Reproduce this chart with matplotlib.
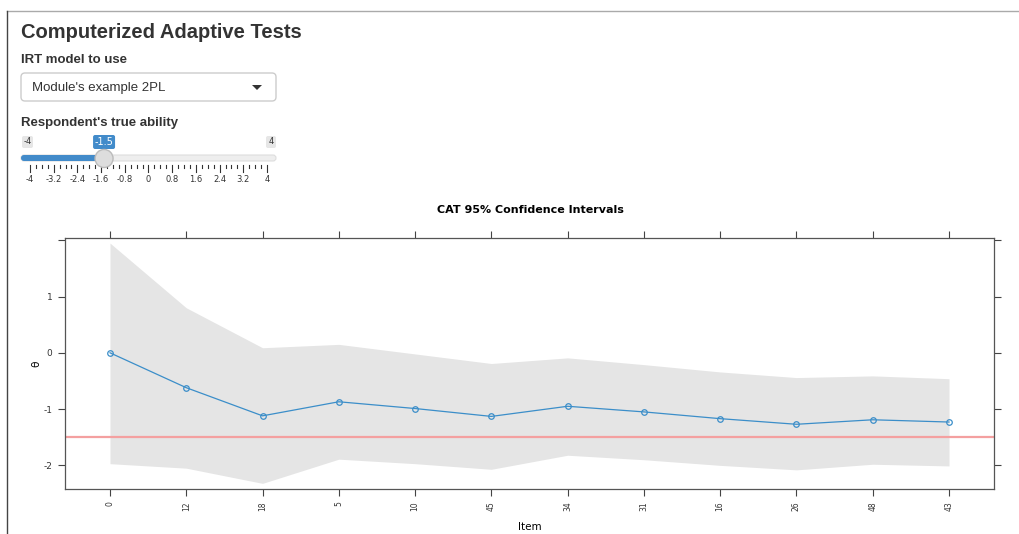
import numpy as np
import matplotlib.pyplot as plt
from matplotlib.patches import FancyBboxPatch, Circle, Polygon

# CAT run data
items = ['0', '12', '18', '5', '10', '45', '34', '31', '16', '26', '48', '43']
theta = [0.0, -0.62, -1.12, -0.87, -0.99, -1.13, -0.95, -1.05, -1.17, -1.27, -1.19, -1.23]
upper = [1.95, 0.80, 0.09, 0.15, -0.02, -0.19, -0.09, -0.21, -0.34, -0.44, -0.41, -0.46]
lower = [-1.97, -2.05, -2.32, -1.89, -1.97, -2.07, -1.82, -1.90, -2.00, -2.08, -1.98, -2.01]
true_theta = -1.5

# slider widget
slider_min, slider_max, slider_val = -4, 4, -1.5
slider_ticks = [-4, -3.2, -2.4, -1.6, -0.8, 0, 0.8, 1.6, 2.4, 3.2, 4]

W, H = 1019, 534
fig = plt.figure(figsize=(W / 100, H / 100), dpi=100)

# ---- page / UI layer in pixel coordinates ----
ui = fig.add_axes([0, 0, 1, 1])
ui.set_xlim(0, W)
ui.set_ylim(H, 0)
ui.axis('off')

ui.plot([7.5, W], [10.5, 10.5], color='#aaaaaa', lw=1)
ui.plot([7.5, 7.5], [10.5, H], color='#444444', lw=1)

ui.text(21, 32, 'Computerized Adaptive Tests', fontsize=14.5, fontweight='bold', color='#333333',
        va='center', ha='left', family='Liberation Sans')
ui.text(21, 60, 'IRT model to use', fontsize=9.5, fontweight='bold', color='#333333',
        va='center', ha='left', family='Liberation Sans')
ui.add_patch(FancyBboxPatch((21, 73), 255, 28, boxstyle='round,pad=0,rounding_size=4',
                            fc='white', ec='#cccccc', lw=1))
ui.text(32, 87.5, "Module's example 2PL", fontsize=9.5, color='#333333',
        va='center', ha='left', family='Liberation Sans')
ui.add_patch(Polygon([[252, 85], [262, 85], [257, 90]], closed=True, fc='#333333', ec='none'))

ui.text(21, 123, "Respondent's true ability", fontsize=9.5, fontweight='bold', color='#333333',
        va='center', ha='left', family='Liberation Sans')

def px(v):
    return 30 + (v - slider_min) / (slider_max - slider_min) * (267 - 30)

# track
ui.add_patch(FancyBboxPatch((21, 155), 255, 6, boxstyle='round,pad=0,rounding_size=3',
                            fc='#eeeeee', ec='#dddddd', lw=0.8))
ui.add_patch(FancyBboxPatch((21, 155), px(slider_val) - 21, 6,
                            boxstyle='round,pad=0,rounding_size=3', fc='#428bca', ec='none'))
# min / max / value labels
ui.add_patch(FancyBboxPatch((22, 136), 11, 12, boxstyle='round,pad=0,rounding_size=2',
                            fc='#e6e6e6', ec='none'))
ui.text(27.5, 142, str(slider_min), fontsize=6, color='#333333', ha='center', va='center')
ui.add_patch(FancyBboxPatch((266, 136), 10, 12, boxstyle='round,pad=0,rounding_size=2',
                            fc='#e6e6e6', ec='none'))
ui.text(271, 142, str(slider_max), fontsize=6, color='#333333', ha='center', va='center')
ui.add_patch(FancyBboxPatch((px(slider_val) - 11, 135), 22, 14,
                            boxstyle='round,pad=0,rounding_size=2', fc='#428bca', ec='none'))
ui.text(px(slider_val), 142, str(slider_val), fontsize=7, color='white', ha='center', va='center')
ui.add_patch(Circle((px(slider_val), 158.5), 9, fc='#dddddd', ec='#bbbbbb', lw=1, zorder=5))
# grid ticks
for i in range(41):
    v = slider_min + i * 0.2
    major = i % 4 == 0
    ui.plot([px(v), px(v)], [165, 172 if major else 168], color='#333333', lw=0.8)
for v in slider_ticks:
    ui.text(px(v), 180, f'{v:g}', fontsize=6, color='#333333', ha='center', va='center')

# ---- lattice-style plot ----
x = np.arange(len(items))
ax = fig.add_axes([65 / W, (H - 489) / H, (994 - 65) / W, (489 - 238) / H])
ax.fill_between(x, lower, upper, color='#e5e5e5', lw=0)
ax.axhline(true_theta, color='#f4a0a0', lw=1.6)
ax.plot(x, theta, color='#3b8ec9', lw=0.9, marker='o', ms=4, mfc='none', mec='#3b8ec9', mew=0.9)

ax.set_xlim(-0.59, 11.59)
ax.set_ylim(-2.42, 2.04)
ax.set_xticks(x)
ax.set_xticklabels(items, rotation=90, fontsize=5.5, color='#333333')
ax.set_yticks([-2, -1, 0, 1, 2])
ax.set_yticklabels(['-2', '-1', '0', '1', ''], fontsize=6.5, color='#333333')
ax.tick_params(direction='out', length=5, width=0.8, color='#444444',
               top=True, right=True, labeltop=False, labelright=False, pad=4)
for s in ax.spines.values():
    s.set_color('#555555')
    s.set_linewidth(0.9)
ax.set_ylabel('θ', fontsize=7.5)
ax.yaxis.set_label_coords((41 - 65) / (994 - 65), 0.5)
ax.set_xlabel('Item', fontsize=7.5, labelpad=8)
fig.text(530 / W, 1 - 210 / H, 'CAT 95% Confidence Intervals', fontsize=8, fontweight='bold',
         ha='center', va='center')

fig.savefig('out.png', dpi=100)
